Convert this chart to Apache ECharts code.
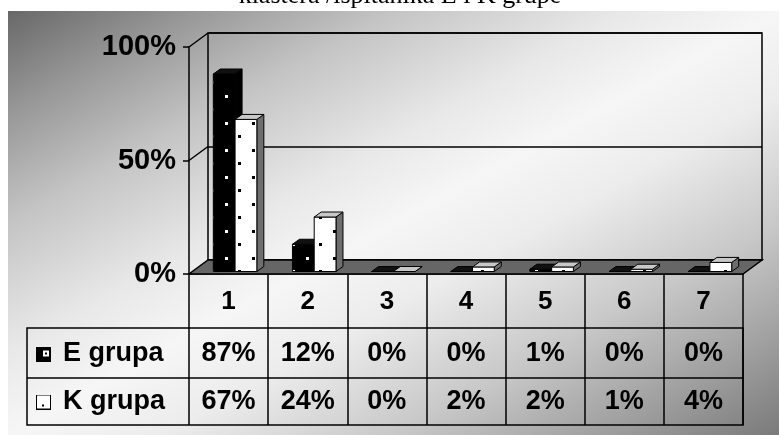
<!DOCTYPE html>
<html>
<head>
<meta charset="utf-8">
<script src="https://cdn.jsdelivr.net/npm/echarts@6/dist/echarts.min.js"></script>
<style>
  html, body { margin: 0; padding: 0; background: #fff; }
  #chart { width: 779px; height: 435px; }
</style>
</head>
<body>
<div id="chart"></div>
<script>
// ---- data ----
const categories = ['1', '2', '3', '4', '5', '6', '7'];
const eGrupa = [87, 12, 0, 0, 1, 0, 0];
const kGrupa = [67, 24, 0, 2, 2, 1, 4];
const seriesNames = ['E grupa', 'K grupa'];
const yTicks = [0, 50, 100];
const titleText = 'klastera /ispitanika E i K grupe';

// ---- layout ----
const FRONT = { left: 189, top: 47, width: 554, height: 227 };   // front plane of the 3D box
const DEPTH = [19, -14];                                          // offset of the back wall
const BAR_SHIFT = [6.5, -2.5];                                    // bars sit a little inside the box
const BAR_DEPTH = [7, -5];
const BAR_FRAC = 0.275;                                           // bar width as share of a category band
const TABLE = { left: 27, right: 743, rows: [328, 378, 425] };
const ROW_MID = { header: 302, e: 354, k: 402 };
const FONT = '"Liberation Sans", Arial, sans-serif';
const axisBottom = FRONT.top + FRONT.height;

// dotted fill tiles for the bar faces
function dotTile(bg, dot) {
  const c = document.createElement('canvas');
  c.width = 27; c.height = 27;
  const g = c.getContext('2d');
  g.fillStyle = bg; g.fillRect(0, 0, 27, 27);
  g.fillStyle = dot;
  g.fillRect(9, 14, 3, 3);
  g.fillRect(22, 0, 3, 3);
  return c;
}

function keyIcon(fill, mark, inner) {
  const c = document.createElement('canvas');
  c.width = 22; c.height = 15;
  const g = c.getContext('2d');
  g.fillStyle = fill; g.fillRect(0.5, 0.5, 14, 14);
  g.strokeStyle = '#000'; g.lineWidth = 1; g.strokeRect(0.5, 0.5, 14, 14);
  if (inner) {
    g.fillStyle = '#fff'; g.fillRect(7, 4, 6, 6);
    g.fillStyle = '#000'; g.fillRect(9, 6, 2, 2);
  } else {
    g.fillStyle = mark; g.fillRect(6, 10, 2, 2);
  }
  return 'image://' + c.toDataURL();
}

const LOOK_E = { front: { image: dotTile('#000', '#fff'), repeat: 'repeat' }, top: '#111', side: '#000' };
const LOOK_K = { front: { image: dotTile('#fff', '#000'), repeat: 'repeat' }, top: '#c8c8c8', side: '#6e6e6e' };

function barRenderer(slot, look) {
  return function (params, api) {
    const i = api.value(0), v = api.value(1);
    const base = api.coord([i, 0]);
    const peak = api.coord([i, v]);
    const w = api.size([1, 0])[0] * BAR_FRAC;
    const x = base[0] + BAR_SHIFT[0] + (slot - 1) * w;
    const yb = base[1] + BAR_SHIFT[1];
    const yt = peak[1] + BAR_SHIFT[1];
    const dx = BAR_DEPTH[0], dy = BAR_DEPTH[1];
    const edge = { stroke: '#000', lineWidth: 1, lineJoin: 'round' };
    return {
      type: 'group',
      children: [
        { type: 'polygon', shape: { points: [[x + w, yt], [x + w, yb], [x + w + dx, yb + dy], [x + w + dx, yt + dy]] },
          style: Object.assign({ fill: look.side }, edge) },
        { type: 'rect', shape: { x: x, y: yt, width: w, height: yb - yt },
          style: Object.assign({ fill: look.front }, edge) },
        { type: 'polygon', shape: { points: [[x, yt], [x + w, yt], [x + w + dx, yt + dy], [x + dx, yt + dy]] },
          style: Object.assign({ fill: look.top }, edge) }
      ]
    };
  };
}

// side wall lines and the floor of the box
function renderFrame(params, api) {
  const cs = params.coordSys;
  const v = api.value(1);
  const y = api.coord([0, v])[1];
  if (v === 0) {
    return {
      type: 'polygon',
      shape: { points: [[cs.x, y], [cs.x + cs.width, y], [cs.x + cs.width + DEPTH[0], y + DEPTH[1]], [cs.x + DEPTH[0], y + DEPTH[1]]] },
      style: { fill: '#666', stroke: '#000', lineWidth: 1.5 }
    };
  }
  return {
    type: 'line',
    shape: { x1: cs.x, y1: y, x2: cs.x + DEPTH[0], y2: y + DEPTH[1] },
    style: { stroke: '#000', lineWidth: 1.5 }
  };
}

const boldText = { fontFamily: FONT, fontWeight: 'bold', color: '#000' };
const chart = echarts.init(document.getElementById('chart'), null, { renderer: 'canvas' });

chart.setOption({
  animation: false,
  backgroundColor: '#fff',
  graphic: [
    { type: 'text', z: -20, x: 400, y: -4,
      style: { text: titleText, font: '26px "Liberation Serif", "DejaVu Serif", serif', fill: '#000', align: 'center', verticalAlign: 'middle' } },
    { type: 'rect', z: -10, shape: { x: 8, y: 11, width: 771, height: 424 },
      style: { fill: new echarts.graphic.LinearGradient(0, 0, 0.464, 1.536, [
        { offset: 0, color: '#686868' },
        { offset: 0.12, color: '#979797' },
        { offset: 0.25, color: '#c4c4c4' },
        { offset: 0.4, color: '#e8e8e8' },
        { offset: 0.5, color: '#f6f6f6' },
        { offset: 0.6, color: '#ececec' },
        { offset: 0.75, color: '#c8c8c8' },
        { offset: 0.88, color: '#a0a0a0' },
        { offset: 1, color: '#7a7a7a' }
      ]) } },
    { type: 'rect', shape: { x: TABLE.left, y: TABLE.rows[0], width: TABLE.right - TABLE.left, height: TABLE.rows[2] - TABLE.rows[0] },
      style: { fill: 'none', stroke: '#000', lineWidth: 1.5 } },
    { type: 'line', shape: { x1: TABLE.left, y1: TABLE.rows[1], x2: TABLE.right, y2: TABLE.rows[1] },
      style: { stroke: '#000', lineWidth: 1.5 } }
  ],
  legend: {
    orient: 'vertical', left: 36, top: ROW_MID.e - 15, padding: 0,
    itemGap: (ROW_MID.k - ROW_MID.e) - 30, itemWidth: 22, itemHeight: 15, selectedMode: false,
    textStyle: Object.assign({ fontSize: 27, lineHeight: 30 }, boldText),
    data: [
      { name: seriesNames[0], icon: keyIcon('#000', '#fff', true) },
      { name: seriesNames[1], icon: keyIcon('#fff', '#000', false) }
    ]
  },
  grid: [
    { left: FRONT.left, top: FRONT.top, width: FRONT.width, height: FRONT.height, outerBoundsMode: 'none' },
    { left: FRONT.left + DEPTH[0], top: FRONT.top + DEPTH[1], width: FRONT.width, height: FRONT.height,
      show: true, borderColor: '#000', borderWidth: 1.5, backgroundColor: 'transparent', outerBoundsMode: 'none' }
  ],
  xAxis: [
    { gridIndex: 0, type: 'category', data: categories, position: 'bottom', boundaryGap: true,
      axisLine: { show: true, lineStyle: { color: '#000', width: 1.5 } },
      axisTick: { show: true, interval: 0, alignWithLabel: false, length: TABLE.rows[2] - axisBottom, lineStyle: { color: '#000', width: 1.5 } },
      axisLabel: Object.assign({ interval: 0, margin: ROW_MID.header - axisBottom, verticalAlign: 'middle', fontSize: 26 }, boldText) },
    { gridIndex: 0, type: 'category', data: categories, position: 'bottom', offset: 0,
      axisLine: { show: false }, axisTick: { show: false }, splitLine: { show: false },
      axisLabel: Object.assign({ interval: 0, margin: ROW_MID.e - axisBottom, verticalAlign: 'middle', fontSize: 27,
        formatter: (val, i) => eGrupa[i] + '%' }, boldText) },
    { gridIndex: 0, type: 'category', data: categories, position: 'bottom', offset: 0,
      axisLine: { show: false }, axisTick: { show: false }, splitLine: { show: false },
      axisLabel: Object.assign({ interval: 0, margin: ROW_MID.k - axisBottom, verticalAlign: 'middle', fontSize: 27,
        formatter: (val, i) => kGrupa[i] + '%' }, boldText) },
    { gridIndex: 1, type: 'category', data: categories, show: false }
  ],
  yAxis: [
    { gridIndex: 0, type: 'value', min: 0, max: 100, interval: 50,
      axisLine: { show: true, lineStyle: { color: '#000', width: 1.5 } },
      axisTick: { show: true, length: 6, lineStyle: { color: '#000', width: 1.5 } },
      splitLine: { show: false },
      axisLabel: Object.assign({ formatter: '{value}%', fontSize: 29, margin: 13 }, boldText) },
    { gridIndex: 1, type: 'value', min: 0, max: 100, interval: 50,
      axisLine: { show: false }, axisTick: { show: false }, axisLabel: { show: false },
      splitLine: { show: true, lineStyle: { color: '#000', width: 1.5 } } }
  ],
  series: [
    { type: 'custom', name: 'frame', xAxisIndex: 0, yAxisIndex: 0, z: 1, silent: true,
      data: yTicks.map(v => [0, v]), encode: { x: 0, y: 1 }, renderItem: renderFrame },
    { type: 'custom', name: seriesNames[0], xAxisIndex: 0, yAxisIndex: 0, z: 2,
      itemStyle: { color: '#000' },
      data: eGrupa.map((v, i) => [i, v]), encode: { x: 0, y: 1 }, renderItem: barRenderer(0, LOOK_E) },
    { type: 'custom', name: seriesNames[1], xAxisIndex: 0, yAxisIndex: 0, z: 2,
      itemStyle: { color: '#fff' },
      data: kGrupa.map((v, i) => [i, v]), encode: { x: 0, y: 1 }, renderItem: barRenderer(1, LOOK_K) }
  ]
});
</script>
</body>
</html>
